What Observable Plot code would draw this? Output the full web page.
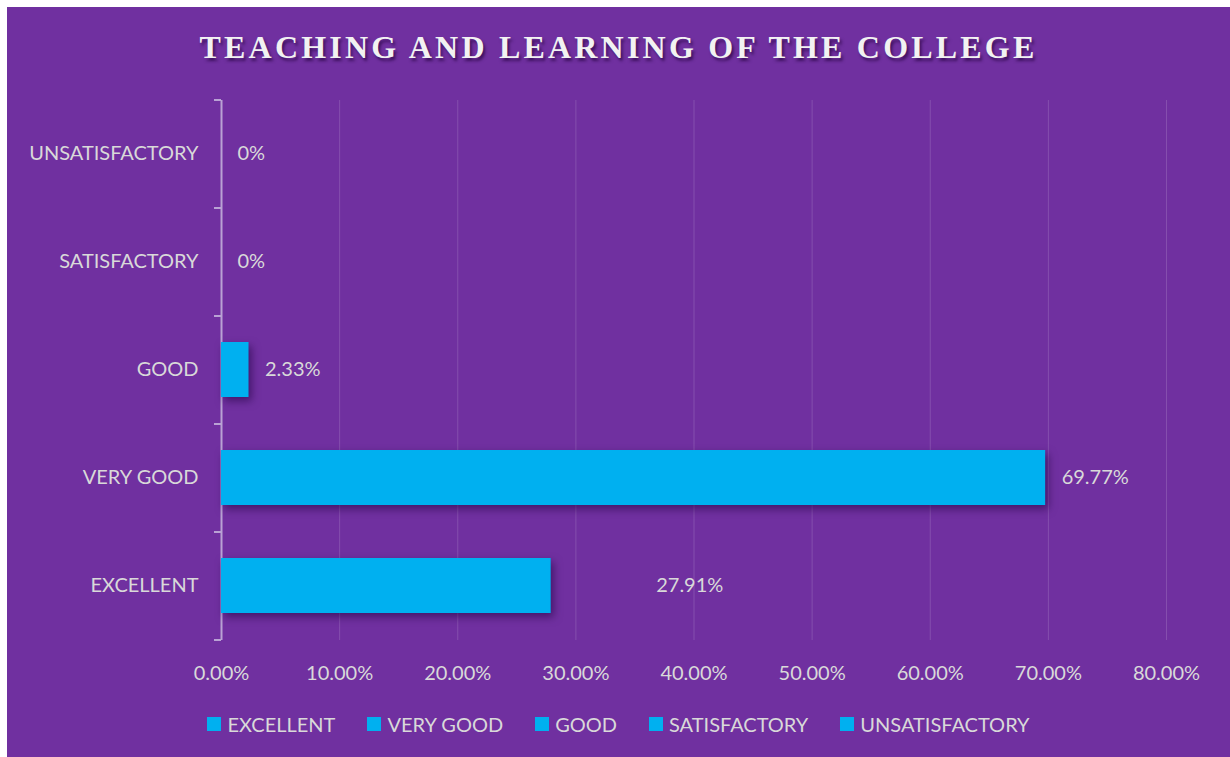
<!DOCTYPE html>
<html><head><meta charset="utf-8">
<script src="https://cdn.jsdelivr.net/npm/d3@7"></script>
<script src="https://cdn.jsdelivr.net/npm/@observablehq/plot@0.6"></script>
<style>
html,body{margin:0;padding:0;background:#fff;}
#chart{position:absolute;left:7px;top:7px;width:1223px;height:750px;background:#7030a0;overflow:hidden;font-family:Lato,sans-serif;}
#title{position:absolute;left:0;right:0;top:24px;text-align:center;font-family:"Liberation Serif",serif;font-weight:bold;font-size:32px;line-height:1;letter-spacing:3.2px;color:#f2f2f2;text-shadow:2px 3px 3px rgba(35,0,60,0.65);white-space:nowrap;}
#plot{position:absolute;left:0;top:81px;}
#legend{position:absolute;left:0;right:0;top:707px;display:flex;justify-content:center;align-items:center;font-size:20px;color:#d9d9d9;font-family:Lato,sans-serif;line-height:1;}
#legend .item{display:flex;align-items:center;margin:0 16px;}
#legend .sw{width:14px;height:14px;background:#00b0f0;margin-right:6px;}
g[aria-label="bar"] rect{filter:drop-shadow(3px 4px 4px rgba(30,0,60,0.55));}
</style>
</head><body>
<div id="chart"><div id="title"></div><div id="plot"></div><div id="legend"></div></div>
<script>
const title = "TEACHING AND LEARNING OF THE COLLEGE";
const categories = ["EXCELLENT","VERY GOOD","GOOD","SATISFACTORY","UNSATISFACTORY"];
const values = [27.91, 69.77, 2.33, 0, 0];
const xTicks = [0,10,20,30,40,50,60,70,80];

const data = categories.map((c,i)=>({category:c, value:values[i]}));
const yOrder = categories.slice().reverse();
const fmtVal = v => v === 0 ? "0%" : v.toFixed(2) + "%";
const textColor = "#d9d9d9";
const axisColor = "#b9a2d4";
const FS = 20;
const W = 1223, H = 600, mT = 12, mB = 48, mL = 214, mR = 64;
const step = (H - mT - mB) / categories.length;

document.getElementById("title").textContent = title;

const chart = Plot.plot({
  width: W, height: H, marginTop: mT, marginBottom: mB, marginLeft: mL, marginRight: mR,
  style: {background: "transparent", fontFamily: "Lato, sans-serif", fontSize: FS + "px", color: textColor},
  x: {domain: [0, 80], label: null},
  y: {domain: yOrder, paddingInner: 0.49, paddingOuter: 0.245, label: null},
  marks: [
    Plot.gridX(xTicks.slice(1), {stroke: "#ffffff", strokeOpacity: 0.15, strokeWidth: 1}),
    Plot.axisX(xTicks, {tickSize: 0, tickPadding: 25, tickFormat: d => d.toFixed(2) + "%", fill: textColor, fontSize: FS, label: null}),
    Plot.axisY({tickSize: 0, tickPadding: 23, fill: textColor, fontSize: FS, label: null}),
    Plot.axisY({tickSize: 7, tickFormat: () => "", dy: -step / 2, stroke: axisColor, strokeWidth: 2, label: null}),
    Plot.axisY([categories[0]], {tickSize: 7, tickFormat: () => "", dy: step / 2, stroke: axisColor, strokeWidth: 2, label: null}),
    Plot.ruleX([0], {stroke: axisColor, strokeWidth: 2}),
    Plot.barX(data, {x: "value", y: "category", fill: "#00b0f0"}),
    Plot.text(data.filter(d => d.category !== categories[0]), {x: "value", y: "category", text: d => fmtVal(d.value), dx: 16, textAnchor: "start", fill: textColor, fontSize: FS}),
    Plot.text(data.filter(d => d.category === categories[0]), {x: "value", y: "category", text: d => fmtVal(d.value), dx: 105, textAnchor: "start", fill: textColor, fontSize: FS})
  ]
});
document.getElementById("plot").appendChild(chart);

const legend = document.getElementById("legend");
categories.forEach(c => {
  const it = document.createElement("div"); it.className = "item";
  const sw = document.createElement("div"); sw.className = "sw";
  const tx = document.createElement("span"); tx.textContent = c;
  it.appendChild(sw); it.appendChild(tx); legend.appendChild(it);
});
</script>
</body></html>
